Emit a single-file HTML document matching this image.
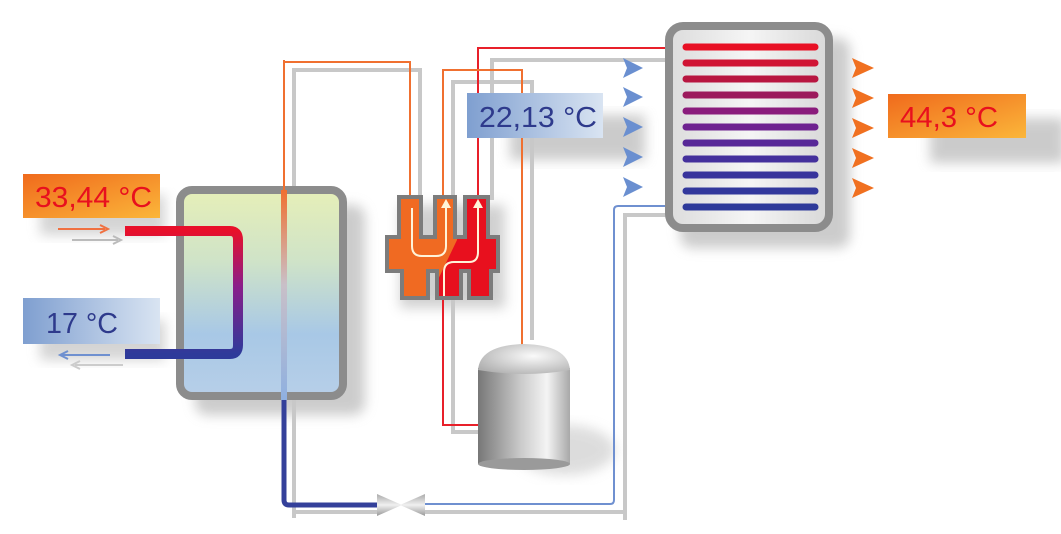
<!DOCTYPE html>
<html><head><meta charset="utf-8"><style>
html,body{margin:0;padding:0;background:#fff;}
svg{display:block}
text{font-family:"Liberation Sans",sans-serif;}
</style></head><body>
<svg width="1061" height="534" viewBox="0 0 1061 534" xmlns="http://www.w3.org/2000/svg">
<defs>
<filter id="blur" x="-20%" y="-20%" width="140%" height="140%"><feGaussianBlur stdDeviation="6"/></filter>
<linearGradient id="tankIn" x1="0" y1="0" x2="0" y2="1">
<stop offset="0" stop-color="#e6efb8"/><stop offset="0.35" stop-color="#cfe3c8"/><stop offset="0.7" stop-color="#a8c8e6"/><stop offset="1" stop-color="#b7cfe8"/></linearGradient>
<linearGradient id="orangeLbl" x1="0" y1="0" x2="1" y2="1">
<stop offset="0" stop-color="#f06a1c"/><stop offset="1" stop-color="#fbb63a"/></linearGradient>
<linearGradient id="blueLbl" x1="0" y1="0" x2="1" y2="0">
<stop offset="0" stop-color="#7f9fd0"/><stop offset="1" stop-color="#d9e4f2"/></linearGradient>
<linearGradient id="coilPipe" x1="0" y1="0" x2="0" y2="1">
<stop offset="0" stop-color="#e8102a"/><stop offset="0.45" stop-color="#8a1e8a"/><stop offset="1" stop-color="#2e3a9a"/></linearGradient>
<linearGradient id="vertPipe" x1="0" y1="0" x2="0" y2="1">
<stop offset="0" stop-color="#f07030"/><stop offset="0.45" stop-color="#c9c0c8"/><stop offset="1" stop-color="#8fb0e0"/></linearGradient>
<linearGradient id="cyl" x1="0" y1="0" x2="1" y2="0">
<stop offset="0" stop-color="#777"/><stop offset="0.45" stop-color="#c8c8c8"/><stop offset="0.75" stop-color="#f4f4f4"/><stop offset="1" stop-color="#a8a8a8"/></linearGradient>
<radialGradient id="dome" cx="0.6" cy="0.4" r="0.7"><stop offset="0" stop-color="#fafafa"/><stop offset="1" stop-color="#b0b0b0"/></radialGradient>
<linearGradient id="coilBox" x1="0" y1="0" x2="1" y2="0"><stop offset="0" stop-color="#dcdcdc"/><stop offset="0.5" stop-color="#f5f5f5"/><stop offset="1" stop-color="#d8d8d8"/></linearGradient>
<linearGradient id="valve" x1="0" y1="0" x2="0" y2="1"><stop offset="0" stop-color="#aaa"/><stop offset="0.5" stop-color="#f0f0f0"/><stop offset="1" stop-color="#999"/></linearGradient>
<clipPath id="hxIn"><path d="M401,199 419,199 419,239 437,239 437,199 453,199 453,239 467,239 467,199 486,199 486,239 496,239 496,269 489,269 489,296 471,296 471,269 459,269 459,296 439,296 439,269 426,269 426,296 404,296 404,269 389,269 389,239 401,239 Z"/></clipPath>
</defs>

<rect x="195" y="205" width="170" height="210" rx="12" fill="#9a9a9a" opacity="0.5" filter="url(#blur)"/>
<rect x="680" y="38" width="170" height="210" rx="12" fill="#9a9a9a" opacity="0.5" filter="url(#blur)"/>
<rect x="930" y="118" width="135" height="45" fill="#aaa" opacity="0.6" filter="url(#blur)"/>
<rect x="510" y="115" width="135" height="45" fill="#aaa" opacity="0.6" filter="url(#blur)"/>
<rect x="40" y="195" width="125" height="40" fill="#aaa" opacity="0.5" filter="url(#blur)"/>
<rect x="40" y="320" width="125" height="40" fill="#aaa" opacity="0.5" filter="url(#blur)"/>
<ellipse cx="565" cy="450" rx="50" ry="25" fill="#bbb" opacity="0.5" filter="url(#blur)"/>
<path d="M400,205 L505,205 L505,308 L400,308Z" fill="#999" opacity="0.45" filter="url(#blur)"/>

<g fill="none" stroke="#c8c8c8" stroke-width="4">
<path d="M294 518 V70 H420 V200"/>
<path d="M492 200 V60 H670"/>
<path d="M453 200 V82 H532 V340"/>
<path d="M453 300 V432 H480"/>
<path d="M625 520 V215 H680"/>
<path d="M294 512 H380"/>
<path d="M425 512 H625"/>
</g>

<rect x="180" y="190" width="163" height="206" rx="12" fill="url(#tankIn)" stroke="#8c8c8c" stroke-width="8"/>
<path d="M125 231 H230 Q238 231 238 240 V345 Q238 354 230 354 H125" fill="none" stroke="url(#coilPipe)" stroke-width="10"/>
<path d="M284 60 V190" stroke="#f07030" stroke-width="2" fill="none"/>
<rect x="281" y="190" width="6" height="210" fill="url(#vertPipe)"/>
<path d="M284 400 V500 Q284 505 289 505 H380" fill="none" stroke="#34409a" stroke-width="5"/>
<path d="M284 62 H410 V196" fill="none" stroke="#f07030" stroke-width="2"/>
<path d="M478 196 V48 H668" fill="none" stroke="#e8202a" stroke-width="2"/>
<path d="M443 196 V70 H522 V345" fill="none" stroke="#f07030" stroke-width="2"/>
<path d="M443 298 V425 H482" fill="none" stroke="#e8202a" stroke-width="2"/>
<path d="M682 206 H618 Q614 206 614 210 V500 Q614 504 610 504 H422" fill="none" stroke="#6f90d0" stroke-width="2"/>

<path d="M377 494 L402 505 L377 516 Z" fill="url(#valve)"/>
<path d="M425 494 L400 505 L425 516 Z" fill="url(#valve)"/>

<path d="M397,195 423,195 423,235 433,235 433,195 457,195 457,235 463,235 463,195 490,195 490,235 500,235 500,273 493,273 493,300 467,300 467,273 463,273 463,300 435,300 435,273 430,273 430,300 400,300 400,273 385,273 385,235 397,235 Z" fill="#7c7c7c"/>
<g clip-path="url(#hxIn)">
<rect x="380" y="190" width="130" height="115" fill="#f06a22"/>
<path d="M459,190 L510,190 L510,305 L430,305 L434,288 L457,240 Z" fill="#e8101e"/>
</g>
<g fill="none" stroke="#fff3d8" stroke-width="2">
<path d="M412 208 V246 Q412 256 422 256 H436 Q446 256 446 246 V206"/>
<path d="M444 296 V272 Q444 262 454 262 H469 Q478 262 478 252 V206"/>
</g>
<path d="M441 208 L446 199 L451 208 Z" fill="#fff3d8"/>
<path d="M473 208 L478 199 L483 208 Z" fill="#fff3d8"/>

<rect x="478" y="368" width="92" height="96" fill="url(#cyl)"/>
<ellipse cx="524" cy="464" rx="46" ry="6" fill="#9a9a9a"/>
<path d="M478 370 Q480 345 524 344 Q568 345 570 370 Q524 378 478 370 Z" fill="url(#dome)"/>

<rect x="669" y="26" width="160" height="202" rx="14" fill="url(#coilBox)" stroke="#8c8c8c" stroke-width="8"/>
<g stroke-linecap="round" stroke-width="7">
<line x1="686" y1="47" x2="815" y2="47" stroke="#e81024"/>
<line x1="686" y1="63" x2="815" y2="63" stroke="#d01434"/>
<line x1="686" y1="79" x2="815" y2="79" stroke="#b81640"/>
<line x1="686" y1="95" x2="815" y2="95" stroke="#9c1a5c"/>
<line x1="686" y1="111" x2="815" y2="111" stroke="#8a1c7c"/>
<line x1="686" y1="127" x2="815" y2="127" stroke="#6e2290"/>
<line x1="686" y1="143" x2="815" y2="143" stroke="#582898"/>
<line x1="686" y1="159" x2="815" y2="159" stroke="#44309c"/>
<line x1="686" y1="175" x2="815" y2="175" stroke="#38349c"/>
<line x1="686" y1="191" x2="815" y2="191" stroke="#32389c"/>
<line x1="686" y1="207" x2="815" y2="207" stroke="#2e3a9a"/>
</g>

<g fill="#6a8fd0">
<path d="M623 58 L643 68 L623 78 L627 68Z"/>
<path d="M623 87 L643 97 L623 107 L627 97Z"/>
<path d="M623 117 L643 127 L623 137 L627 127Z"/>
<path d="M623 147 L643 157 L623 167 L627 157Z"/>
<path d="M623 177 L643 187 L623 197 L627 187Z"/>
</g>
<g fill="#f07020">
<path d="M852 58 L874 68 L852 78 L856 68Z"/>
<path d="M852 88 L874 98 L852 108 L856 98Z"/>
<path d="M852 118 L874 128 L852 138 L856 128Z"/>
<path d="M852 148 L874 158 L852 168 L856 158Z"/>
<path d="M852 178 L874 188 L852 198 L856 188Z"/>
</g>

<g fill="none" stroke-width="2">
<path d="M58 229 H105" stroke="#f07040"/><path d="M100 225 L108 229 L100 233" stroke="#f07040"/>
<path d="M72 240 H118" stroke="#bbb"/><path d="M113 236 L121 240 L113 244" stroke="#bbb"/>
<path d="M62 355 H110" stroke="#6f90d0"/><path d="M68 351 L60 355 L68 359" stroke="#6f90d0"/>
<path d="M75 365 H123" stroke="#ccc"/><path d="M80 361 L72 365 L80 369" stroke="#ccc"/>
</g>

<rect x="23" y="174" width="137" height="44" fill="url(#orangeLbl)"/>
<text x="35" y="207" font-size="29" fill="#e8101e" textLength="117" lengthAdjust="spacingAndGlyphs">33,44 °C</text>
<rect x="23" y="298" width="137" height="46" fill="url(#blueLbl)"/>
<text x="46" y="333" font-size="29" fill="#2e3a8c" textLength="72" lengthAdjust="spacingAndGlyphs">17 °C</text>
<rect x="467" y="93" width="136" height="45" fill="url(#blueLbl)"/>
<text x="479" y="127" font-size="29" fill="#2e3a8c" textLength="118" lengthAdjust="spacingAndGlyphs">22,13 °C</text>
<rect x="888" y="94" width="138" height="44" fill="url(#orangeLbl)"/>
<text x="900" y="127" font-size="29" fill="#e8101e" textLength="98" lengthAdjust="spacingAndGlyphs">44,3 °C</text>
</svg>
</body></html>
